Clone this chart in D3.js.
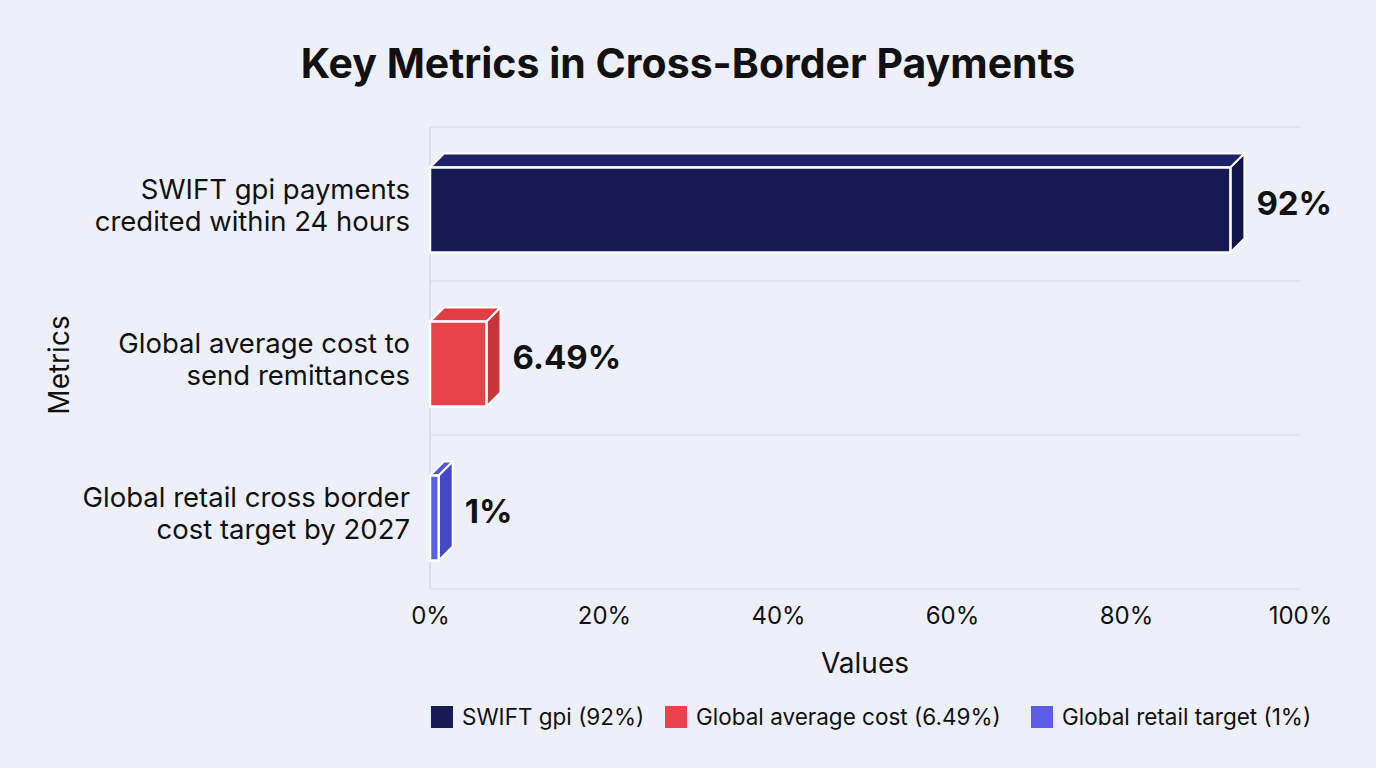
<!DOCTYPE html>
<html>
<head>
<meta charset="utf-8">
<script src="https://cdn.jsdelivr.net/npm/d3@7/dist/d3.min.js"></script>
<style>
  html, body { margin: 0; padding: 0; background: #edf0fb; }
  #chart { width: 1376px; height: 768px; }
  text { font-family: Inter, "Noto Sans", sans-serif; fill: #111; }
</style>
</head>
<body>
<div id="chart"></div>
<script>
// data
const categories = [
  ["SWIFT gpi payments", "credited within 24 hours"],
  ["Global average cost to", "send remittances"],
  ["Global retail cross border", "cost target by 2027"]
];
const values = [92, 6.49, 1];
const valueLabels = ["92%", "6.49%", "1%"];
const legendLabels = ["SWIFT gpi (92%)", "Global average cost (6.49%)", "Global retail target (1%)"];
const colors = ["#171a55", "#e8434a", "#5b5fe6"];
const sideColors = ["#10124a", "#c9343a", "#4548c4"];
const topColors = ["#1d2166", "#e03d44", "#5156d6"];
const tickValues = [0, 20, 40, 60, 80, 100];

const W = 1376, H = 768;
const margin = {t:127, r:76, b:179, l:430};
const innerWidth = W - margin.l - margin.r;
const innerHeight = H - margin.t - margin.b;
const depth = 14;

const svg = d3.select('#chart').append('svg')
  .attr('width', W).attr('height', H);

svg.append('rect').attr('width', W).attr('height', H).attr('fill', '#edf0fb');

const scaleX = d3.scaleLinear().domain([0, 100]).range([0, innerWidth]);
const scaleY = d3.scaleBand().domain(d3.range(categories.length)).range([0, innerHeight]);

svg.append('text')
  .attr('x', 688).attr('y', 78)
  .attr('text-anchor', 'middle')
  .style('font-size', '41px').style('font-weight', 700)
  .text('Key Metrics in Cross-Border Payments');

const plot = svg.append('g')
  .attr('transform', `translate(${margin.l}, ${margin.t})`);

// grid: band boundaries
plot.selectAll('line.grid')
  .data(d3.range(categories.length + 1))
  .join('line')
  .attr('class', 'grid')
  .attr('x1', 0).attr('x2', innerWidth)
  .attr('y1', i => i * scaleY.step()).attr('y2', i => i * scaleY.step())
  .attr('stroke', '#d6d9e4').attr('stroke-width', 1);

plot.append('line')
  .attr('x1', 0).attr('x2', 0).attr('y1', 0).attr('y2', innerHeight)
  .attr('stroke', '#d6d9e4').attr('stroke-width', 1.5);

// x axis
const axisX = d3.axisBottom(scaleX)
  .tickValues(tickValues)
  .tickFormat(d => d + '%')
  .tickSize(0)
  .tickPadding(18);
const gx = plot.append('g')
  .attr('transform', `translate(0, ${innerHeight})`)
  .call(axisX);
gx.select('.domain').remove();
gx.selectAll('text').style('font-size', '24px').style('fill', '#111')
  .style('font-family', 'Inter, sans-serif');

svg.append('text')
  .attr('x', margin.l + innerWidth / 2).attr('y', 673)
  .attr('text-anchor', 'middle')
  .style('font-size', '28px')
  .text('Values');

svg.append('text')
  .attr('transform', 'translate(69, 365) rotate(-90)')
  .attr('text-anchor', 'middle')
  .style('font-size', '28px')
  .text('Metrics');

// category labels
const catG = plot.selectAll('text.cat')
  .data(categories)
  .join('text')
  .attr('class', 'cat')
  .attr('text-anchor', 'end')
  .attr('x', -20)
  .attr('y', (d, i) => scaleY(i) + scaleY.bandwidth() / 2)
  .style('font-size', '27.5px');
catG.selectAll('tspan')
  .data(d => d)
  .join('tspan')
  .attr('x', -20)
  .attr('dy', (d, j) => j === 0 ? '-0.2em' : '1.18em')
  .text(d => d);

// 3D bars
const barH = 85;
const bars = plot.selectAll('g.bar')
  .data(values)
  .join('g')
  .attr('class', 'bar');

const frontY = (i) => scaleY(i) + scaleY.bandwidth() / 2 - barH / 2 + 6;

bars.append('path')
  .attr('d', (d, i) => {
    const x1 = scaleX(d), y0 = frontY(i);
    return `M0,${y0} L${depth},${y0 - depth} L${x1 + depth},${y0 - depth} L${x1},${y0} Z`;
  })
  .attr('fill', (d, i) => topColors[i])
  .attr('stroke', '#fff').attr('stroke-width', 2).attr('stroke-linejoin', 'round');

bars.append('path')
  .attr('d', (d, i) => {
    const x1 = scaleX(d), y0 = frontY(i);
    return `M${x1},${y0} L${x1 + depth},${y0 - depth} L${x1 + depth},${y0 + barH - depth} L${x1},${y0 + barH} Z`;
  })
  .attr('fill', (d, i) => sideColors[i])
  .attr('stroke', '#fff').attr('stroke-width', 2).attr('stroke-linejoin', 'round');

bars.append('rect')
  .attr('x', 0)
  .attr('y', (d, i) => frontY(i))
  .attr('width', d => scaleX(d))
  .attr('height', barH)
  .attr('fill', (d, i) => colors[i])
  .attr('stroke', '#fff').attr('stroke-width', 2.5);

bars.append('text')
  .attr('x', d => scaleX(d) + depth + 12)
  .attr('y', (d, i) => frontY(i) + barH / 2 - depth / 2)
  .attr('dy', '0.36em')
  .style('font-size', '33px').style('font-weight', 700)
  .text((d, i) => valueLabels[i]);

// legend
const legendX = [431, 665, 1031];
const lg = svg.selectAll('g.legend')
  .data(legendLabels)
  .join('g')
  .attr('class', 'legend')
  .attr('transform', (d, i) => `translate(${legendX[i]}, 706)`);
lg.append('rect')
  .attr('width', 22).attr('height', 22)
  .attr('fill', (d, i) => colors[i]);
lg.append('text')
  .attr('x', 31).attr('y', 11).attr('dy', '0.36em')
  .style('font-size', '22.5px')
  .text(d => d);
</script>
</body>
</html>
